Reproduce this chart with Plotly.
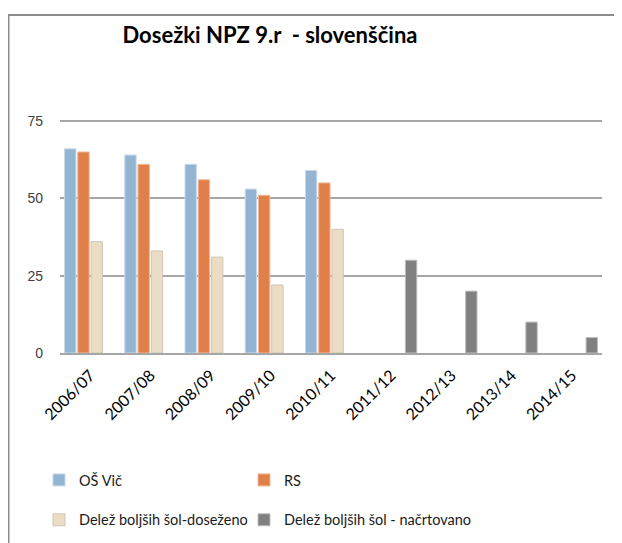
import plotly.graph_objects as go

categories = ["2006/07", "2007/08", "2008/09", "2009/10", "2010/11",
              "2011/12", "2012/13", "2013/14", "2014/15"]
os_vic = [66, 64, 61, 53, 59, None, None, None, None]
rs = [65, 61, 56, 51, 55, None, None, None, None]
delez_doseg = [36, 33, 31, 22, 40, None, None, None, None]
delez_nacrt = [None, None, None, None, None, 30, 20, 10, 5]
y_ticks = [0, 25, 50, 75]

# the page body adds an 8 px offset; figure coords = page coords - 8
W, H = 622, 543
L, R, T, B = 52, 28, 112, 198
pw, ph = W - L - R, H - T - B

def px(x):
    return (x - L) / pw

def py(y):
    return (H - B - y) / ph

fig = go.Figure()
series = [
    ("OŠ Vič", os_vic, "#94B4D4", "#C8D9EA", "legend", "g1"),
    ("RS", rs, "#E08048", "#F0B898", "legend2", "g1"),
    ("Delež boljših šol-doseženo", delez_doseg, "#EBDDC3", "#CFC6B6", "legend", "g2"),
    ("Delež boljših šol - načrtovano", delez_nacrt, "#808080", "#BFBFBF", "legend2", "g2"),
]
for name, vals, col, lcol, leg, grp in series:
    fig.add_trace(go.Bar(
        x=categories, y=vals, name=name,
        marker=dict(color=col, line=dict(color=lcol, width=1)),
        legend=leg, legendgroup=grp,
    ))

fig.update_layout(
    width=W, height=H,
    margin=dict(l=L, r=R, t=T, b=B, autoexpand=False),
    paper_bgcolor="white", plot_bgcolor="white",
    barmode="group", bargap=0.12, bargroupgap=0.14,
    title=dict(text="<b>Dosežki NPZ 9.r  - slovenščina</b>",
               font=dict(family="Lato", size=22, color="#000000"),
               x=px(262), xref="paper", xanchor="center",
               y=1 - 27 / H, yanchor="middle"),
    xaxis=dict(tickangle=-45, showgrid=False, showline=True, automargin=False,
               linecolor="#A6A6A6", linewidth=1.5, ticks="",
               ticklabelshift=0, ticklabelstandoff=5,
               tickfont=dict(family="Lato", size=16, color="#000000")),
    yaxis=dict(range=[0, 75.33], tickvals=y_ticks, showgrid=True, automargin=False,
               gridcolor="#A6A6A6", gridwidth=1.5, zeroline=False,
               showline=False, ticklabelstandoff=16,
               tickfont=dict(family="Liberation Sans", size=14, color="#404040")),
    legend=dict(orientation="v", x=px(31), xanchor="left",
                y=py(456), yanchor="top", tracegroupgap=18,
                itemwidth=30, bgcolor="rgba(0,0,0,0)",
                font=dict(family="Lato", size=14.5, color="#1a1a1a")),
    legend2=dict(orientation="v", x=px(236), xanchor="left",
                 y=py(456), yanchor="top", tracegroupgap=18,
                 itemwidth=30, bgcolor="rgba(0,0,0,0)",
                 font=dict(family="Lato", size=14.5, color="#1a1a1a")),
    showlegend=True,
)

fig.add_shape(type="path", xref="paper", yref="paper",
              path=f"M {px(0.5)} {py(H + 5)} L {px(0.5)} {py(7)} L {px(W + 5)} {py(7)}",
              line=dict(color="#8C8C8C", width=2))

fig.write_html("out.html")
